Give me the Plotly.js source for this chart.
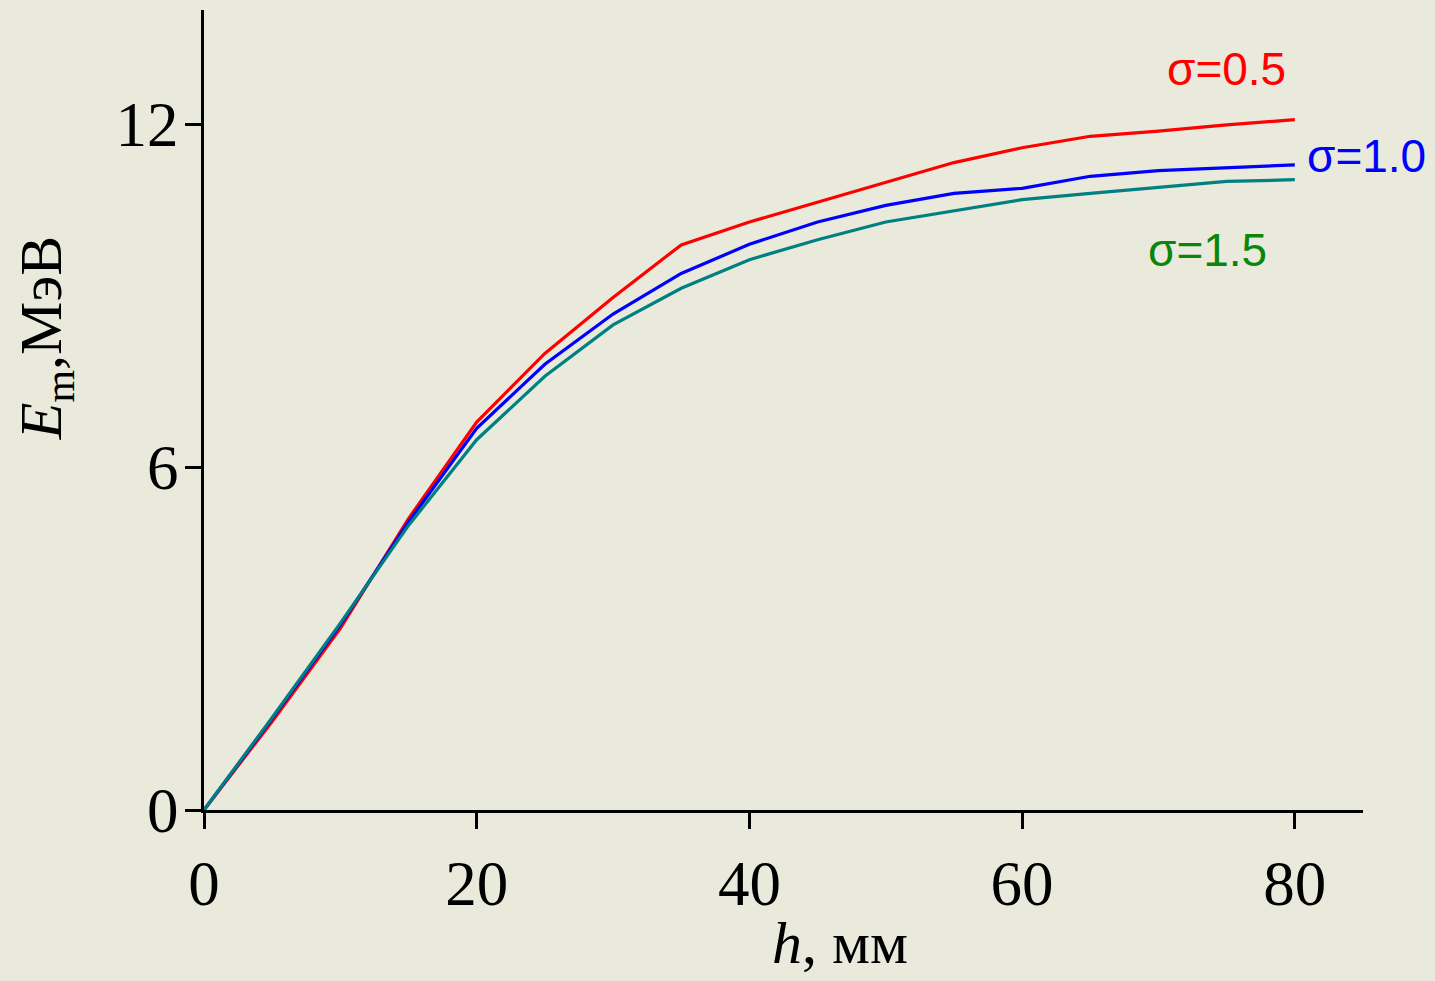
<!DOCTYPE html>
<html>
<head>
<meta charset="utf-8">
<script src="https://cdn.plot.ly/plotly-3.0.1.min.js"></script>
<style>
  html, body { margin: 0; padding: 0; background: #e9e9dc; }
  #chart { width: 1435px; height: 981px; }
</style>
</head>
<body>
<div id="chart"></div>
<script>
// h, mm
const h = [0, 5, 10, 15, 20, 25, 30, 35, 40, 45, 50, 55, 60, 65, 70, 75, 80];
// E_m, MeV for each sigma
const sigma05 = [0, 1.55, 3.18, 5.10, 6.79, 7.99, 8.97, 9.89, 10.29, 10.64, 10.98, 11.33, 11.59, 11.79, 11.88, 11.99, 12.08];
const sigma10 = [0, 1.60, 3.24, 5.04, 6.68, 7.80, 8.68, 9.39, 9.90, 10.29, 10.58, 10.79, 10.88, 11.09, 11.19, 11.24, 11.29];
const sigma15 = [0, 1.62, 3.27, 4.98, 6.48, 7.59, 8.49, 9.13, 9.63, 9.98, 10.29, 10.48, 10.68, 10.79, 10.89, 11.00, 11.03];
const seriesNames = ['σ=0.5', 'σ=1.0', 'σ=1.5'];
const xTicks = [0, 20, 40, 60, 80];
const yTicks = [0, 6, 12];
const xTitle = '<i>h</i>, мм';
const yTitle = '<i>E</i><sub>m</sub>,МэВ';

const lineColors = ['#ff0000', '#0000ff', '#008080'];
const labelColors = ['#ff0000', '#0000ff', '#0a870a'];
const seriesData = [sigma05, sigma10, sigma15];

const traces = seriesData.map((ys, i) => ({
  x: h, y: ys, type: 'scatter', mode: 'lines', name: seriesNames[i],
  line: { color: lineColors[i], width: 3.2 }, hoverinfo: 'x+y'
}));

const serif = 'Liberation Serif, Times New Roman, serif';
const labelPos = [[0.882, 0.926], [1.0026, 0.818], [0.866, 0.7]];
const annotations = seriesNames.map((n, i) => ({
  x: labelPos[i][0], y: labelPos[i][1], xref: 'paper', yref: 'paper',
  text: n, showarrow: false,
  font: { family: 'Liberation Sans, Arial, sans-serif', size: 46, color: labelColors[i] },
  xanchor: 'center', yanchor: 'middle'
}));
annotations.push({
  x: 0.549, y: -0.166, xref: 'paper', yref: 'paper', text: xTitle, showarrow: false,
  font: { family: serif, size: 60, color: '#000' }, xanchor: 'center', yanchor: 'middle'
});
annotations.push({
  x: -0.137, y: 0.59, xref: 'paper', yref: 'paper', text: yTitle, showarrow: false, textangle: -90,
  font: { family: serif, size: 60, color: '#000' }, xanchor: 'center', yanchor: 'middle'
});

const layout = {
  width: 1435, height: 981,
  margin: { l: 204, r: 72, t: 10, b: 171 },
  paper_bgcolor: '#e9e9dc', plot_bgcolor: 'rgba(0,0,0,0)',
  showlegend: false,
  font: { family: serif, color: '#000' },
  xaxis: {
    range: [0, 85], tickvals: xTicks, ticktext: xTicks.map(String),
    showgrid: false, zeroline: false, showline: true, linecolor: '#000', linewidth: 3,
    ticks: 'outside', ticklen: 16, tickwidth: 3, tickcolor: '#000',
    tickfont: { family: serif, size: 63, color: '#000' },
    automargin: false
  },
  yaxis: {
    range: [0, 14], tickvals: yTicks, ticktext: yTicks.map(String),
    showgrid: false, zeroline: false, showline: true, linecolor: '#000', linewidth: 3,
    ticks: 'outside', ticklen: 16, tickwidth: 3, tickcolor: '#000',
    tickfont: { family: serif, size: 63, color: '#000' }, ticklabelstandoff: -6,
    automargin: false
  },
  annotations: annotations
};

Plotly.newPlot('chart', traces, layout, { displayModeBar: false });
</script>
</body>
</html>
